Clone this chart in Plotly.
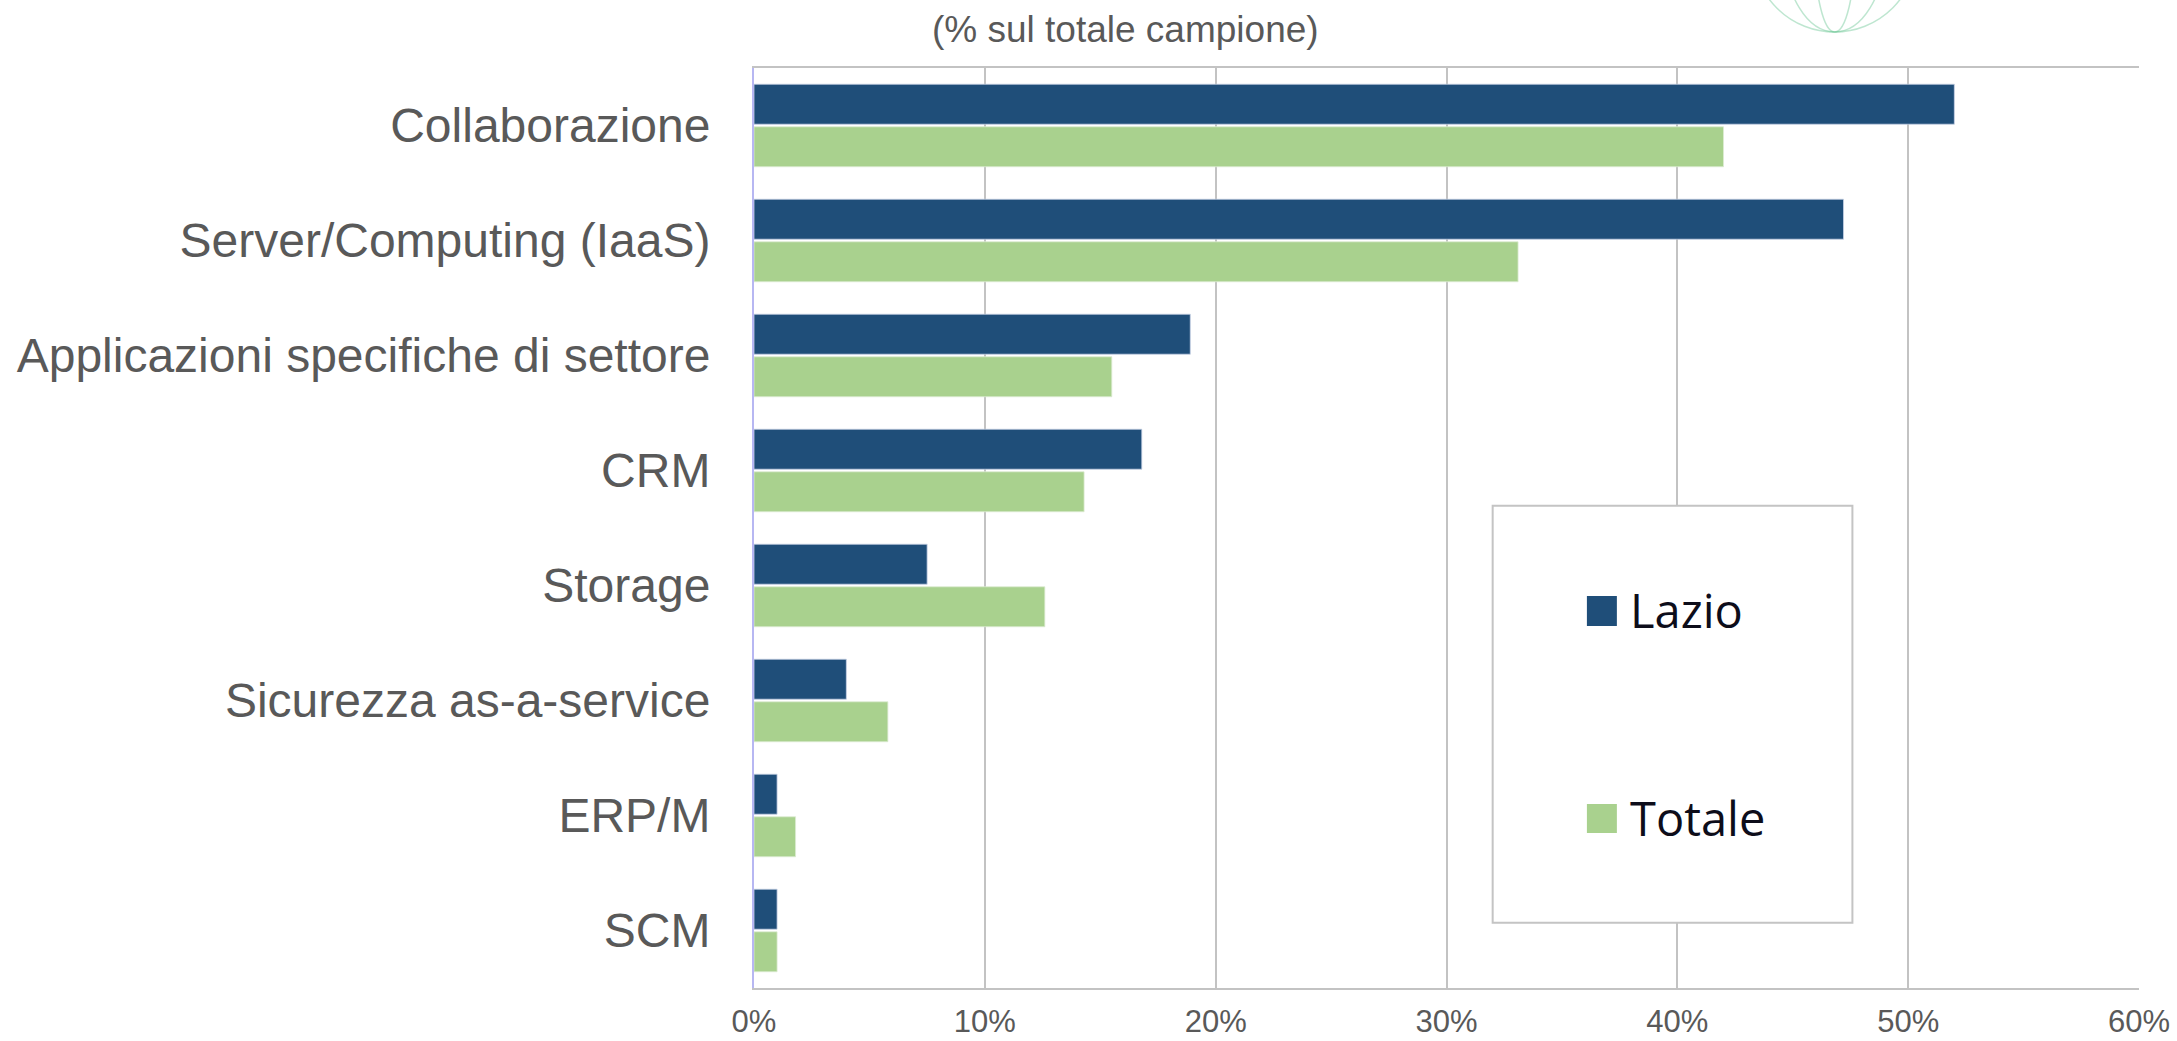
import plotly.graph_objects as go

# ---- data (percent of total sample) ----
categories = [
    "Collaborazione",
    "Server/Computing (IaaS)",
    "Applicazioni specifiche di settore",
    "CRM",
    "Storage",
    "Sicurezza as-a-service",
    "ERP/M",
    "SCM",
]
lazio = [52.0, 47.2, 18.9, 16.8, 7.5, 4.0, 1.0, 1.0]
totale = [42.0, 33.1, 15.5, 14.3, 12.6, 5.8, 1.8, 1.0]
series_names = ["Lazio", "Totale"]
x_ticks = [0, 10, 20, 30, 40, 50, 60]
x_ticklabels = ["0%", "10%", "20%", "30%", "40%", "50%", "60%"]
subtitle = "(% sul totale campione)"

# ---- styles ----
COL_LAZIO = "#1F4E79"
COL_TOTALE = "#A9D18E"
GRID = "#C3C3C3"
TEXT = "#595959"
LOGO = "rgba(110,200,150,0.45)"

W, H = 2177, 1041
ML, MR, MT, MB = 753.5, 37.5, 68, 53

fig = go.Figure()
fig.add_trace(go.Bar(
    y=categories, x=lazio, name=series_names[0], orientation="h",
    marker=dict(color=COL_LAZIO, line=dict(color="rgba(200,210,230,0.8)", width=1)),
    showlegend=False,
))
fig.add_trace(go.Bar(
    y=categories, x=totale, name=series_names[1], orientation="h",
    marker=dict(color=COL_TOTALE, line=dict(color="rgba(220,235,210,0.8)", width=1)),
    showlegend=False,
))

pw = W - ML - MR
ph = H - MT - MB

def px(xp):
    return (xp - ML) / pw

def py(yp):
    return (H - MB - yp) / ph

# manual legend box
shapes = [
    dict(type="rect", xref="paper", yref="paper",
         x0=px(1492.7), x1=px(1852.7), y0=py(922.7), y1=py(505.7),
         line=dict(color="#C4C4C4", width=2), fillcolor="white", layer="above"),
    dict(type="rect", xref="paper", yref="paper",
         x0=px(1587), x1=px(1617), y0=py(626), y1=py(596),
         line=dict(width=0), fillcolor=COL_LAZIO, layer="above"),
    dict(type="rect", xref="paper", yref="paper",
         x0=px(1587), x1=px(1617), y0=py(833), y1=py(804),
         line=dict(width=0), fillcolor=COL_TOTALE, layer="above"),
]
# faint globe logo peeking from the top edge
for (cx, rx, ry) in [(1835, 82, 82), (1835, 50, 82), (1835, 20, 82), (1835, 82, 40)]:
    shapes.append(dict(type="circle", xref="paper", yref="paper",
                       x0=px(cx - rx), x1=px(cx + rx), y0=py(-50 + ry), y1=py(-50 - ry),
                       line=dict(color=LOGO, width=1.5), layer="above"))

annotations = [
    dict(text=series_names[0], xref="paper", yref="paper", x=px(1628), y=py(610),
         xanchor="left", yanchor="middle", showarrow=False,
         font=dict(family="Open Sans", size=47, color="#0D0D1A")),
    dict(text=series_names[1], xref="paper", yref="paper", x=px(1628), y=py(818),
         xanchor="left", yanchor="middle", showarrow=False,
         font=dict(family="Open Sans", size=47, color="#0D0D1A")),
    dict(text=subtitle, xref="paper", yref="paper", x=px(1125), y=py(30),
         xanchor="center", yanchor="middle", showarrow=False,
         font=dict(family="Liberation Sans, Arial", size=37, color=TEXT)),
]

fig.update_layout(
    width=W, height=H,
    margin=dict(l=ML, r=MR, t=MT, b=MB, autoexpand=False),
    paper_bgcolor="white", plot_bgcolor="white",
    barmode="group", bargap=0.26, bargroupgap=0.06,
    shapes=shapes, annotations=annotations,
    font=dict(family="Liberation Sans, Arial", color=TEXT),
)
fig.update_xaxes(
    range=[0, 60], tickmode="array", tickvals=x_ticks, ticktext=x_ticklabels,
    showgrid=True, gridcolor=GRID, gridwidth=2, zeroline=False,
    showline=True, linecolor=GRID, linewidth=2, mirror=True,
    tickfont=dict(size=31, color=TEXT), ticks="", ticklabelstandoff=5,
)
fig.update_yaxes(
    categoryorder="array", categoryarray=categories, autorange="reversed",
    showgrid=False, zeroline=False, showline=True, linecolor="#B7B7F2", linewidth=2,
    tickfont=dict(size=48, color=TEXT), ticks="", ticklabelstandoff=32,
)

fig.write_html(
    "out.html",
    config={"displayModeBar": False},
    post_script="document.body.style.margin='0';document.body.style.overflow='hidden';",
)
